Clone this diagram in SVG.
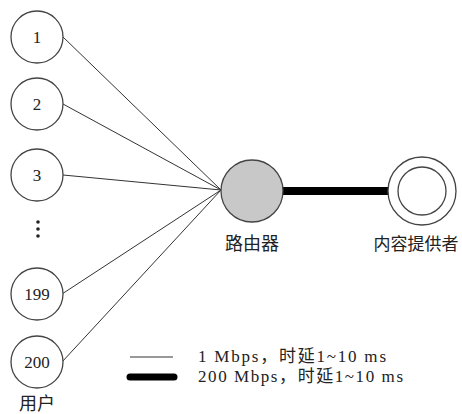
<svg xmlns="http://www.w3.org/2000/svg" width="462" height="414" viewBox="0 0 462 414">
<style>
.n{fill:#fff;stroke:#444;stroke-width:1.3}
.t{font-family:"Liberation Serif","Noto Sans CJK SC",serif;font-size:17px;fill:#222;text-anchor:middle}
.c{font-size:18px}
.l{font-family:"Liberation Serif","Noto Sans CJK SC",serif;font-size:17px;fill:#222}
.thin{stroke:#333;stroke-width:1;fill:none}
.thick{stroke:#000;stroke-width:8;stroke-linecap:round;fill:none}
</style>
<rect width="462" height="414" fill="#fff"/>
<g id="connectors">
<line class="thin" x1="63" y1="37" x2="221" y2="190"/>
<line class="thin" x1="63" y1="104" x2="221" y2="190"/>
<line class="thin" x1="63" y1="175" x2="221" y2="190"/>
<line class="thin" x1="62" y1="294" x2="221" y2="190"/>
<line class="thin" x1="62" y1="362" x2="221" y2="190"/>
<line class="thick" x1="282" y1="191" x2="389" y2="191"/>
</g>
<g id="n1"><circle class="n" cx="37" cy="37" r="26"/><text class="t" x="37" y="43">1</text></g>
<g id="n2"><circle class="n" cx="37" cy="104" r="26"/><text class="t" x="37" y="110">2</text></g>
<g id="n3"><circle class="n" cx="37" cy="175" r="26"/><text class="t" x="37" y="181">3</text></g>
<g id="dots" fill="#222"><circle cx="38" cy="222" r="1.8"/><circle cx="38" cy="229" r="1.8"/><circle cx="38" cy="236" r="1.8"/></g>
<g id="n199"><circle class="n" cx="37" cy="294" r="26"/><text class="t" x="37" y="300">199</text></g>
<g id="n200"><circle class="n" cx="37" cy="362" r="26"/><text class="t" x="37" y="368">200</text></g>
<text class="t c" x="37" y="410">用户</text>
<g id="router"><circle cx="252" cy="191" r="31" fill="#c8c8c8" stroke="#444" stroke-width="1.3"/><text class="t c" x="252" y="250">路由器</text></g>
<g id="provider"><circle class="n" cx="422" cy="191" r="34"/><circle class="n" cx="422" cy="191" r="24"/><text class="t" x="416" y="250">内容提供者</text></g>
<g id="legend">
<line class="thin" x1="130" y1="357" x2="173" y2="357"/>
<line stroke="#000" stroke-width="7" stroke-linecap="round" x1="130" y1="377" x2="174" y2="377"/>
<text class="l" x="198" y="362" textLength="188" lengthAdjust="spacing">1 Mbps，时延1~10 ms</text>
<text class="l" x="198" y="382" textLength="205" lengthAdjust="spacing">200 Mbps，时延1~10 ms</text>
</g>
</svg>
